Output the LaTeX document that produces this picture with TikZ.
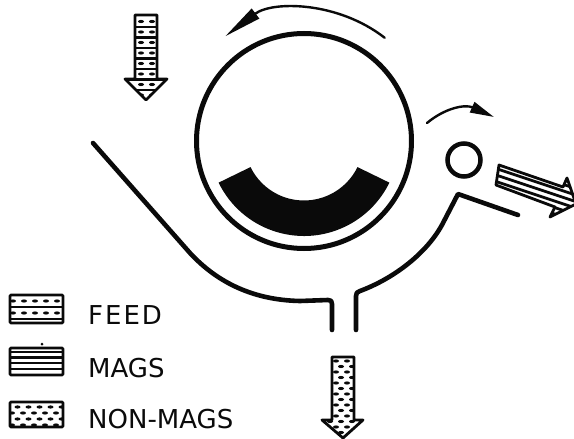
\documentclass[tikz,border=0pt]{standalone}
\usepackage{fontspec}
\setmainfont{DejaVu Sans}
\usepackage{xcolor}
\usetikzlibrary{arrows.meta, positioning}
\definecolor{ink}{HTML}{0A0A0A}
\tikzset{
  wall/.style={draw=ink, line width=4.6pt, line cap=round, line join=round},
  outline/.style={draw=ink, line width=2.8pt, line join=round},
  stripe/.style={draw=ink, line width=2.1pt},
  legendtext/.style={anchor=base west, inner sep=0pt, text=ink, font=\fontsize{26}{26}\selectfont},
  spinarrow/.style={draw=ink, line width=2.4pt, line cap=round}
}
% fill patterns, drawn inside a clip
\newcommand{\speckfill}[6]{% x0,x1,y0,y1,row step,stagger
  \pgfmathsetmacro{\ynext}{#3+#5}
  \pgfmathsetmacro{\xnext}{#1+11}
  \foreach \yy [count=\rr] in {#3,\ynext,...,#4} {
    \pgfmathsetmacro{\xoff}{mod(\rr,2)*#6}
    \foreach \xx in {#1,\xnext,...,#2}
      \fill[ink] (\xx+\xoff,\yy) ellipse (3 and 1.6);
  }
}
\newcommand{\stripefill}[3]{% x0,x1,list of y
  \foreach \yy in {#3} \draw[stripe] (#1,\yy) -- (#2,\yy);
}
\begin{document}
\begin{tikzpicture}[x=1pt, y=-1pt]
  \useasboundingbox (0,0) rectangle (574,439);
  % drum and magnet
  \draw[ink, line width=5pt] (304,141) circle (107.5);
  \fill[ink, shift={(304,141)}] (154:95) arc (154:26:95) -- (26:59.5) arc (26:154:59.5) -- cycle;
  \draw[spinarrow, -{Stealth[length=38pt,width=12pt,inset=0pt]}, shift={(304,141)}] (-52:131) arc (-52:-127:131);
  % chute
  \draw[wall] (93,143) -- (190,253) .. controls (215,280) and (250,300) .. (300,301)
     -- (328,300) .. controls (331,300) and (332,301) .. (332,304) -- (332,330);
  \draw[wall] (356,330) -- (356,296) .. controls (356,293) and (357,292) .. (360,291)
     .. controls (395,278) and (428,252) .. (443,223) -- (458,194) -- (518,215);
  % small roller
  \draw[ink, line width=4.5pt] (464,160) circle (16.5);
  \draw[spinarrow, -{Stealth[length=24pt,width=11pt,inset=0pt]}] (427,123) .. controls (445,108) and (465,104) .. (494,117);
  % feed arrow
  \begin{scope}
    \clip (135,15) -- (157,15) -- (157,79) -- (167,79) -- (146,100) -- (125,79) -- (135,79) -- cycle;
    \speckfill{141}{152}{21.5}{95}{10.5}{0}
    \stripefill{120}{170}{27,37.5,48,58.5,69,79.5,90}
  \end{scope}
  \draw[outline] (135,15) -- (157,15) -- (157,79) -- (167,79) -- (146,100) -- (125,79) -- (135,79) -- cycle;
  % non-mags arrow
  \begin{scope}
    \clip (332,357) -- (354,357) -- (354,420) -- (363,420) -- (343,438) -- (322,420) -- (332,420) -- cycle;
    \speckfill{330}{366}{361}{438}{5.5}{6}
  \end{scope}
  \draw[outline] (332,357) -- (354,357) -- (354,420) -- (363,420) -- (343,438) -- (322,420) -- (332,420) -- cycle;
  % mags arrow
  \begin{scope}
    \clip (499,165) -- (563,187) -- (567,178) -- (576,204) -- (550,217) -- (555,207) -- (496,185) -- cycle;
    \foreach \off in {0,6.5,...,60}
      \draw[ink, line width=2.8pt] (490,160+\off) -- (580,190+\off);
  \end{scope}
  \draw[outline] (499,165) -- (563,187) -- (567,178) -- (576,204) -- (550,217) -- (555,207) -- (496,185) -- cycle;
  % legend
  \begin{scope}
    \clip (10,295) rectangle (63,323);
    \speckfill{13}{66}{301}{314}{12}{0}
    \stripefill{10}{63}{307,319}
  \end{scope}
  \draw[outline, rounded corners=1pt] (10,295) rectangle (63,323);
  \begin{scope}
    \clip (10,348) rectangle (63,375);
    \stripefill{10}{63}{352,357.5,363,369}
  \end{scope}
  \draw[outline, rounded corners=1pt] (10,348) rectangle (63,375);
  \fill[ink] (42,344) circle (1.5);
  \begin{scope}
    \clip (10,402) rectangle (63,427);
    \speckfill{12}{66}{407}{426}{6}{5.5}
  \end{scope}
  \draw[outline, rounded corners=1pt] (10,402) rectangle (63,427);
  \node[legendtext] (feed) at (88,324) {F\kern2pt E\kern2pt E\kern2pt D};
  \node[legendtext] (mags) at (88,377) {MAGS};
  \node[legendtext] (nonmags) at (88,428) {NON-MAGS};
\end{tikzpicture}
\end{document}
